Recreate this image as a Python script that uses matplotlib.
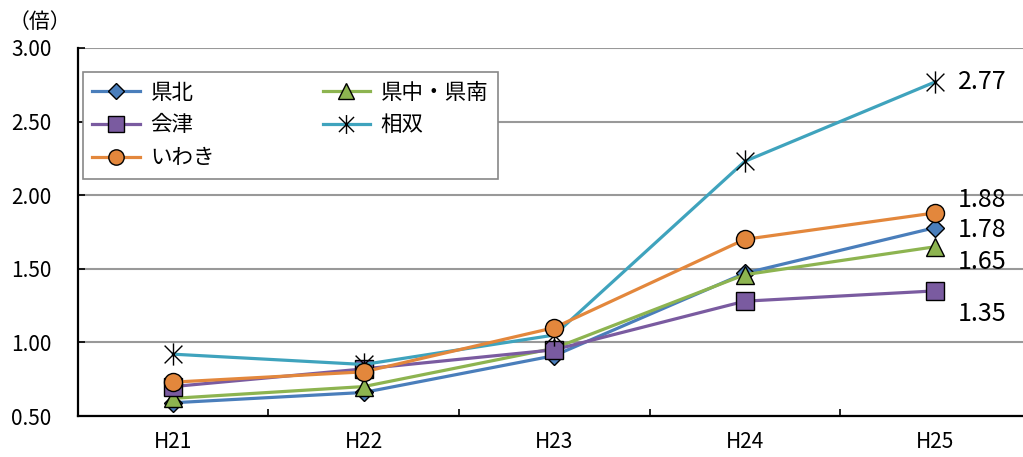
import numpy as np
import matplotlib.pyplot as plt
from matplotlib.path import Path

plt.rcParams['font.family'] = ['Noto Sans CJK JP', 'DejaVu Sans']

years = ['H21', 'H22', 'H23', 'H24', 'H25']
kenpoku = [0.59, 0.66, 0.91, 1.47, 1.78]
kenchu = [0.62, 0.70, 0.96, 1.46, 1.65]
aizu = [0.70, 0.82, 0.95, 1.28, 1.35]
soso = [0.92, 0.85, 1.05, 2.23, 2.77]
iwaki = [0.73, 0.80, 1.10, 1.70, 1.88]
names = ['県北', '県中・県南', '会津', '相双', 'いわき']

# asterisk like excel: X + vertical bar
star = Path([(0, -1), (0, 1), (-0.8, -0.8), (0.8, 0.8), (-0.8, 0.8), (0.8, -0.8)],
            [Path.MOVETO, Path.LINETO, Path.MOVETO, Path.LINETO, Path.MOVETO, Path.LINETO])

styles = [
    dict(color='#4A7EBB', marker='D', ms=9, mfc='#4A7EBB'),
    dict(color='#8DB450', marker='^', ms=13, mfc='#8DB450'),
    dict(color='#7A5BA0', marker='s', ms=13, mfc='#7A5BA0'),
    dict(color='#3FA3BD', marker=star, ms=16, mfc='none'),
    dict(color='#E3873C', marker='o', ms=13, mfc='#E3873C'),
]

fig = plt.figure(figsize=(10.23, 4.57), dpi=100)
ax = fig.add_axes([0.0762, 0.0897, 0.9238, 0.8053])

x = np.arange(len(years))
lines = []
for vals, name, st in zip([kenpoku, kenchu, aizu, soso, iwaki], names, styles):
    l, = ax.plot(x, vals, color=st['color'], lw=2.3, marker=st['marker'],
                 ms=st['ms'], mfc=st['mfc'], mec='black', mew=1.0, label=name)
    lines.append(l)

ax.set_ylim(0.5, 3.0)
ax.set_xlim(-0.5, 4.46)
ax.set_yticks(np.arange(0.5, 3.01, 0.5))
ax.set_yticklabels(['%.2f' % v for v in np.arange(0.5, 3.01, 0.5)])
ax.yaxis.grid(True, color='#999999', lw=1.5)
ax.set_axisbelow(True)
ax.set_xticks(x)
ax.set_xticklabels(years)
ax.set_xticks(np.arange(0.5, 4.5, 1.0), minor=True)
ax.tick_params(axis='x', which='major', length=0, pad=11, labelsize=15)
ax.tick_params(axis='x', which='minor', direction='in', length=5, width=1.2)
ax.tick_params(axis='y', direction='in', length=5, width=1.2, pad=19, labelsize=15)
for s in ['top', 'right']:
    ax.spines[s].set_visible(False)
for s in ['left', 'bottom']:
    ax.spines[s].set_linewidth(1.6)

# value labels at H25
offsets = {'相双': 0, 'いわき': 9.4, '県北': -1.4, '県中・県南': -10.8, '会津': -16.6}
for vals, name in zip([kenpoku, kenchu, aizu, soso, iwaki], names):
    ax.annotate('%.2f' % vals[-1], (x[-1], vals[-1]), xytext=(16, offsets[name]),
                textcoords='offset points', va='center', ha='left', fontsize=18)

order = [0, 2, 4, 1, 3]
leg = ax.legend([lines[i] for i in order], [names[i] for i in order], ncol=2,
                loc='upper left', bbox_to_anchor=(0.005, 0.935), borderaxespad=0,
                fontsize=15.5, handlelength=2.2, columnspacing=5.0, labelspacing=0.5,
                handletextpad=0.5, markerscale=0.85,
                fancybox=False, framealpha=1, edgecolor='#888888', borderpad=0.45)
leg.get_frame().set_linewidth(1.2)

fig.text(0.008, 0.952, '（倍）', fontsize=15, ha='left', va='center')

fig.savefig('out.png', dpi=100)
